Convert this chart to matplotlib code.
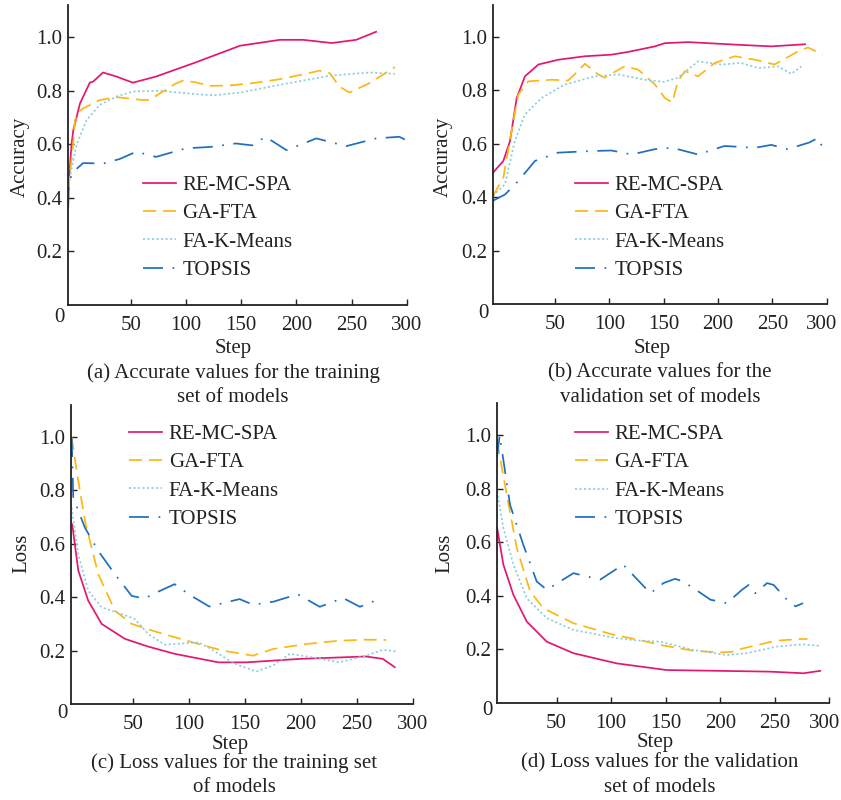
import matplotlib
matplotlib.use("Agg")
import matplotlib.pyplot as plt
import matplotlib.transforms as mtransforms

plt.rcParams['font.family'] = ['Liberation Serif', 'DejaVu Serif']

W, H = 841, 800
FS = 15

series_names = ["RE-MC-SPA", "GA-FTA", "FA-K-Means", "TOPSIS"]
x_ticks = [50, 100, 150, 200, 250, 300]
y_ticks = [0.2, 0.4, 0.6, 0.8, 1.0]

# ---------- (a) accuracy, training ----------
re_a_x = [-6.5, -3.5, -1.9, 4.2, 13, 16, 25, 37, 52, 73, 107, 149, 185, 206, 232, 254, 272]
re_a_y = [0.43, 0.60, 0.653, 0.753, 0.83, 0.834, 0.868, 0.853, 0.83, 0.853, 0.903, 0.968, 0.99, 0.99, 0.978, 0.99, 1.02]
ga_a_x = [-6.5, -2, -0.4, 4, 7, 22, 37, 50, 61, 67, 76.5, 90, 97.5, 108, 122, 140, 160, 185, 205, 221, 230, 239, 248, 266, 289]
ga_a_y = [0.43, 0.60, 0.69, 0.725, 0.734, 0.765, 0.776, 0.77, 0.765, 0.766, 0.79, 0.825, 0.838, 0.832, 0.818, 0.82, 0.828, 0.843, 0.86, 0.875, 0.866, 0.815, 0.793, 0.828, 0.888]
fa_a_x = [-6.5, -3, 1.2, 10, 22, 37, 52, 76, 107, 125, 149, 185, 230, 266, 289]
fa_a_y = [0.44, 0.52, 0.60, 0.69, 0.747, 0.778, 0.797, 0.80, 0.788, 0.783, 0.793, 0.822, 0.856, 0.868, 0.863]
tp_a_x = [-6.5, -6, -3.4, -0.4, 7, 25, 40, 55, 73, 100, 122, 145, 160, 172, 191, 218, 245, 272, 293, 298]
tp_a_y = [0.365, 0.44, 0.49, 0.503, 0.53, 0.528, 0.545, 0.572, 0.553, 0.585, 0.59, 0.603, 0.596, 0.628, 0.578, 0.622, 0.593, 0.622, 0.628, 0.618]

# ---------- (b) accuracy, validation ----------
re_b_x = [-7, 2.5, 8.6, 14.8, 22.4, 34.7, 53, 77.6, 102, 117, 142, 151, 172.5, 218.5, 249, 280]
re_b_y = [0.492, 0.536, 0.61, 0.772, 0.853, 0.897, 0.915, 0.928, 0.934, 0.944, 0.965, 0.977, 0.981, 0.971, 0.965, 0.973]
ga_b_x = [-7, 2.5, 10, 16.3, 25.5, 47, 62, 68, 77.6, 89.8, 95.5, 114, 126.5, 142, 151, 158, 163, 169.5, 181.7, 197, 215.5, 234, 252, 273.5, 282.8, 296]
ga_b_y = [0.405, 0.473, 0.648, 0.785, 0.834, 0.84, 0.837, 0.86, 0.9, 0.86, 0.848, 0.89, 0.878, 0.822, 0.772, 0.755, 0.834, 0.872, 0.853, 0.903, 0.928, 0.915, 0.897, 0.946, 0.961, 0.934]
fa_b_x = [-7, 4, 13, 22.4, 37.8, 59, 86.8, 108, 132.7, 150, 163, 181.7, 203, 221, 237, 255, 267.5, 276.7]
fa_b_y = [0.405, 0.449, 0.61, 0.71, 0.772, 0.822, 0.853, 0.86, 0.84, 0.832, 0.847, 0.909, 0.897, 0.903, 0.884, 0.89, 0.862, 0.89]
tp_b_x = [-7, 4, 16.3, 31.6, 53, 83.7, 102, 120.5, 142, 158, 181.7, 206, 234, 249, 264, 284, 292, 297]
tp_b_y = [0.387, 0.41, 0.461, 0.536, 0.567, 0.573, 0.575, 0.56, 0.58, 0.585, 0.56, 0.592, 0.585, 0.596, 0.58, 0.605, 0.622, 0.58]

# ---------- (c) loss, training ----------
re_c_x = [-4.5, 0.9, 9.8, 21.8, 42.6, 63.4, 87, 126, 151, 199, 258, 273, 283.7]
re_c_y = [0.673, 0.5, 0.387, 0.3, 0.244, 0.215, 0.188, 0.156, 0.156, 0.169, 0.178, 0.169, 0.138]
ga_c_x = [-5, -0.5, 6.9, 18.8, 33.7, 48.6, 72.3, 108, 130, 157, 175, 205, 234, 258, 276]
ga_c_y = [1.0, 0.872, 0.685, 0.486, 0.349, 0.3, 0.268, 0.225, 0.2, 0.181, 0.206, 0.225, 0.237, 0.241, 0.24]
fa_c_x = [-5, 0.9, 9.8, 21.8, 39.6, 51.5, 63.4, 78.3, 108, 118, 135, 145, 160, 175, 190, 210, 234, 258, 273, 285]
fa_c_y = [0.735, 0.56, 0.424, 0.362, 0.337, 0.318, 0.262, 0.222, 0.231, 0.21, 0.165, 0.144, 0.122, 0.144, 0.188, 0.175, 0.156, 0.181, 0.203, 0.197]
tp_c_x = [-5, -4.1, -3.6, 6.9, 18.8, 33.7, 48.6, 60, 72, 87, 100, 118, 145, 157, 175, 197, 216.7, 237.5, 252.6, 267.3]
tp_c_y = [1.0, 0.86, 0.772, 0.66, 0.573, 0.486, 0.405, 0.395, 0.42, 0.449, 0.41, 0.365, 0.393, 0.372, 0.383, 0.411, 0.364, 0.397, 0.364, 0.389]

# ---------- (d) loss, validation ----------
re_d_x = [-4.5, 1.2, 10.4, 22.7, 41, 65.4, 105, 151, 200, 246, 276.4, 291.7]
re_d_y = [0.653, 0.516, 0.403, 0.303, 0.228, 0.185, 0.147, 0.122, 0.119, 0.116, 0.11, 0.119]
ga_d_x = [-4.5, -1.8, 4.3, 13.5, 25.7, 37.9, 65.4, 102, 125, 145, 175.5, 200, 210, 221, 236.7, 252, 273.4, 280]
ga_d_y = [0.978, 0.915, 0.778, 0.578, 0.416, 0.353, 0.297, 0.254, 0.235, 0.216, 0.194, 0.188, 0.19, 0.203, 0.218, 0.232, 0.238, 0.238]
fa_d_x = [-4.5, 1.2, 10.4, 22.7, 41, 65.4, 105, 125, 145, 175.5, 206, 224.5, 252, 276.4, 291.7]
fa_d_y = [0.79, 0.653, 0.516, 0.39, 0.316, 0.272, 0.241, 0.232, 0.228, 0.197, 0.178, 0.185, 0.21, 0.218, 0.212]
tp_d_x = [-4.5, -2.2, 7.3, 19.5, 31.8, 41, 65.4, 90, 111, 136, 148, 158.7, 166, 175.5, 191, 206, 220, 226, 232, 243, 249, 262.7, 269, 276]
tp_d_y = [0.92, 1.0, 0.74, 0.59, 0.453, 0.422, 0.484, 0.46, 0.516, 0.409, 0.447, 0.463, 0.453, 0.428, 0.385, 0.372, 0.422, 0.44, 0.409, 0.447, 0.44, 0.378, 0.36, 0.372]

panels = [
    dict(data=[(re_a_x, re_a_y), (ga_a_x, ga_a_y), (fa_a_x, fa_a_y), (tp_a_x, tp_a_y)],
         box=(68, 5, 407, 305), xmin=-6.7, ylabel="Accuracy", ylab_pos=(20, 157),
         step_pos=(233, 348), cap=["(a) Accurate values for the training", "set of models"],
         cap_pos=(233, 373, 397), leg=(0.221, 0.432), zero_off=-13),
    dict(data=[(re_b_x, re_b_y), (ga_b_x, ga_b_y), (fa_b_x, fa_b_y), (tp_b_x, tp_b_y)],
         box=(492.7, 5, 826.7, 304), xmin=-7.3, ylabel="Accuracy", ylab_pos=(443, 157),
         step_pos=(652, 348), cap=["(b) Accurate values for the", "validation set of models"],
         cap_pos=(660, 373, 397), leg=(0.246, 0.43), zero_off=-10),
    dict(data=[(re_c_x, re_c_y), (ga_c_x, ga_c_y), (fa_c_x, fa_c_y), (tp_c_x, tp_c_y)],
         box=(71, 405, 413, 704), xmin=-5.6, ylabel="Loss", ylab_pos=(22, 553),
         step_pos=(230, 745), cap=["(c) Loss values for the training set", "of models"],
         cap_pos=(234, 763, 788), leg=(0.17, 0.935), zero_off=-10),
    dict(data=[(re_d_x, re_d_y), (ga_d_x, ga_d_y), (fa_d_x, fa_d_y), (tp_d_x, tp_d_y)],
         box=(496.7, 403, 829.3, 702.7), xmin=-4.9, ylabel="Loss", ylab_pos=(445, 553),
         step_pos=(655, 742), cap=["(d) Loss values for the validation", "set of models"],
         cap_pos=(660, 763, 788), leg=(0.235, 0.928), zero_off=-8),
]

colors = ["#E3176E", "#FDB714", "#8ECDE0", "#1E6FBD"]
styles = [dict(linestyle="-"),
          dict(dashes=(7.5, 4.0)),
          dict(dashes=(1.2, 1.4)),
          dict(dashes=(11.5, 5.5, 1.0, 5.5))]
LW = 1.25
TXT = "#222222"

fig = plt.figure(figsize=(W / 100, H / 100), dpi=100)

def fx(px):
    return px / W

def fy(py):
    return 1 - py / H

for i, p in enumerate(panels):
    l, t, r, b = p["box"]
    ax = fig.add_axes([l / W, 1 - b / H, (r - l) / W, (b - t) / H])
    for (xs, ys), name, c, st in zip(p["data"], series_names, colors, styles):
        ax.plot(xs, ys, color=c, lw=LW, label=name, **st)
    ax.set_xlim(p["xmin"], 300)
    ax.set_ylim(0, 1.12)
    ax.set_xticks(x_ticks)
    ax.set_xticklabels([str(v) for v in x_ticks])
    ax.set_yticks(y_ticks)
    ax.set_yticklabels(["%.1f" % v for v in y_ticks])
    for s in ["top", "right"]:
        ax.spines[s].set_visible(False)
    for s in ["left", "bottom"]:
        ax.spines[s].set_linewidth(1.3)
        ax.spines[s].set_color(TXT)
    ax.tick_params(axis="both", direction="in", length=4, width=1.0, labelsize=FS, colors=TXT)
    ax.tick_params(axis="x", pad=8)
    ax.tick_params(axis="y", pad=4)
    if i in (1, 3):
        lab = ax.get_xticklabels()[-1]
        lab.set_transform(lab.get_transform() + mtransforms.ScaledTranslation(-5 / 100, 0, fig.dpi_scale_trans))
    ax.annotate("0", xy=(0, 0), xycoords="axes fraction", xytext=(-9, p["zero_off"]),
                textcoords="offset pixels", ha="center", va="center", fontsize=FS, color=TXT)
    leg = ax.legend(loc="upper left", bbox_to_anchor=p["leg"], frameon=False, fontsize=FS,
                    handlelength=1.6, handletextpad=0.3, labelspacing=0.42,
                    borderpad=0, borderaxespad=0)
    for txt in leg.get_texts():
        txt.set_color(TXT)
    fig.text(fx(p["ylab_pos"][0]), fy(p["ylab_pos"][1]), p["ylabel"], rotation=90,
             ha="center", va="center", fontsize=FS, color=TXT)
    fig.text(fx(p["step_pos"][0]), fy(p["step_pos"][1]), "Step",
             ha="center", va="center", fontsize=FS, color=TXT)
    cx, y1, y2 = p["cap_pos"]
    fig.text(fx(cx), fy(y1), p["cap"][0], ha="center", va="center", fontsize=FS, color=TXT)
    fig.text(fx(cx), fy(y2), p["cap"][1], ha="center", va="center", fontsize=FS, color=TXT)

fig.savefig("out.png", dpi=100)
